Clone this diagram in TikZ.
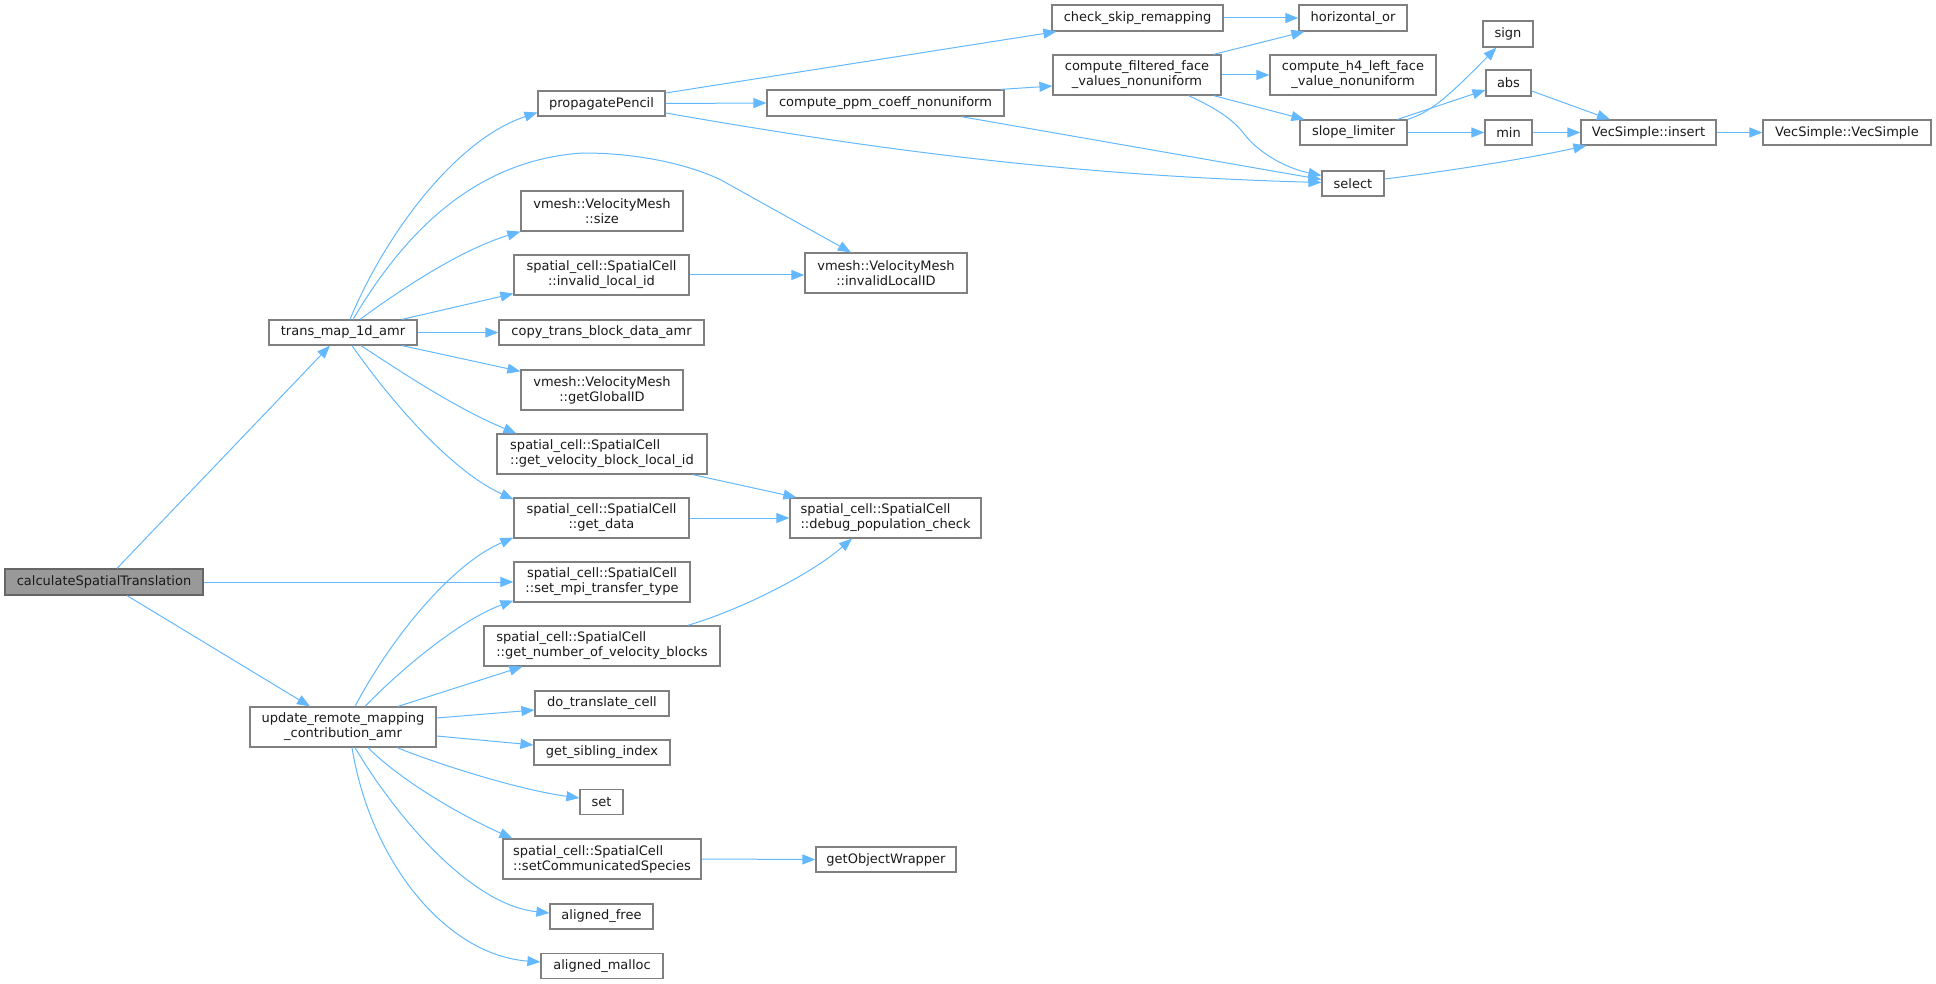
\documentclass[tikz,border=0pt]{standalone}
\usepackage{fontspec}
\setmainfont{DejaVu Sans}
\usetikzlibrary{arrows.meta}
\definecolor{edgec}{HTML}{63B8FF}
\definecolor{boxc}{HTML}{808080}
\definecolor{rootfill}{HTML}{999999}
\definecolor{rootdraw}{HTML}{666666}
\definecolor{txtc}{HTML}{1A1A1A}
\begin{document}
\begin{tikzpicture}[x=1pt,y=-1pt,
  font=\fontsize{13}{15}\selectfont,
  box/.style={draw=boxc, line width=1.2pt, fill=white, inner sep=0pt, align=center, text=txtc},
  lbox/.style={box, align=left},
  root/.style={box, draw=rootdraw, fill=rootfill},
  conn/.style={draw=edgec, line width=1pt, -{Triangle[length=13pt,width=10pt]}}]
\useasboundingbox (0,0) rectangle (1936,984);

% nodes
\node[root, minimum width=198pt, minimum height=26pt] (calc) at (104,582) {calculateSpatialTranslation};
\node[box, minimum width=148pt, minimum height=25pt] (trans) at (343,332.5) {trans\_map\_1d\_amr};
\node[box, minimum width=127pt, minimum height=25pt] (pP) at (601.5,103.5) {propagatePencil};
\node[box, minimum width=162pt, minimum height=40pt] (size) at (602,211) {vmesh::VelocityMesh\\::size};
\node[box, minimum width=175pt, minimum height=40pt] (ilid) at (601.5,275) {spatial\_cell::SpatialCell\\::invalid\_local\_id};
\node[box, minimum width=205pt, minimum height=25pt] (copy) at (601.5,332.5) {copy\_trans\_block\_data\_amr};
\node[box, minimum width=162pt, minimum height=40pt] (ggid) at (602,390) {vmesh::VelocityMesh\\::getGlobalID};
\node[lbox, minimum width=210pt, minimum height=40pt] (gvbli) at (602,454) {spatial\_cell::SpatialCell\\::get\_velocity\_block\_local\_id};
\node[box, minimum width=175pt, minimum height=40pt] (gdata) at (601.5,518) {spatial\_cell::SpatialCell\\::get\_data};
\node[box, minimum width=176pt, minimum height=40pt] (smpi) at (602,582) {spatial\_cell::SpatialCell\\::set\_mpi\_transfer\_type};
\node[lbox, minimum width=236pt, minimum height=40pt] (gnovb) at (602,646) {spatial\_cell::SpatialCell\\::get\_number\_of\_velocity\_blocks};
\node[box, minimum width=186pt, minimum height=40pt] (upd) at (343,727) {update\_remote\_mapping\\\_contribution\_amr};
\node[box, minimum width=134pt, minimum height=25pt] (dotr) at (602,703.5) {do\_translate\_cell};
\node[box, minimum width=136pt, minimum height=25pt] (sib) at (602,752.5) {get\_sibling\_index};
\node[box, minimum width=43pt, minimum height=25pt] (set) at (601.5,802) {set};
\node[lbox, minimum width=198pt, minimum height=40pt] (scs) at (602,859) {spatial\_cell::SpatialCell\\::setCommunicatedSpecies};
\node[box, minimum width=103pt, minimum height=25pt] (afree) at (601.5,916.5) {aligned\_free};
\node[box, minimum width=122pt, minimum height=25pt] (amalloc) at (602,966) {aligned\_malloc};
\node[box, minimum width=171pt, minimum height=26pt] (csr) at (1137.5,18) {check\_skip\_remapping};
\node[box, minimum width=168pt, minimum height=40pt] (cffv) at (1137,75) {compute\_filtered\_face\\\_values\_nonuniform};
\node[box, minimum width=237pt, minimum height=26pt] (ppm) at (885.5,103) {compute\_ppm\_coeff\_nonuniform};
\node[box, minimum width=162pt, minimum height=40pt] (ilID) at (886,273) {vmesh::VelocityMesh\\::invalidLocalID};
\node[lbox, minimum width=191pt, minimum height=40pt] (dpc) at (885.5,518) {spatial\_cell::SpatialCell\\::debug\_population\_check};
\node[box, minimum width=140pt, minimum height=25pt] (gow) at (886,859.5) {getObjectWrapper};
\node[box, minimum width=108pt, minimum height=26pt] (hor) at (1353,18) {horizontal\_or};
\node[box, minimum width=166pt, minimum height=40pt] (h4) at (1353,75) {compute\_h4\_left\_face\\\_value\_nonuniform};
\node[box, minimum width=107pt, minimum height=25pt] (slope) at (1353.5,132.5) {slope\_limiter};
\node[box, minimum width=62pt, minimum height=25pt] (sel) at (1353,183.5) {select};
\node[box, minimum width=50pt, minimum height=26pt] (sign) at (1508,34) {sign};
\node[box, minimum width=45pt, minimum height=26pt] (abs) at (1508.5,83) {abs};
\node[box, minimum width=47pt, minimum height=25pt] (min) at (1508.5,132.5) {min};
\node[box, minimum width=135pt, minimum height=25pt] (ins) at (1648.5,132.5) {VecSimple::insert};
\node[box, minimum width=168pt, minimum height=25pt] (vec) at (1847,132.5) {VecSimple::VecSimple};

% connectors from calculateSpatialTranslation
\draw[conn] ([xshift=13pt]calc.north) -- ([xshift=-13pt]trans.south);
\draw[conn] (calc.east) -- (smpi.west);
\draw[conn] ([xshift=23pt]calc.south) -- ([xshift=-33pt]upd.north);

% from trans_map_1d_amr
\draw[conn] ([xshift=7pt]trans.north) .. controls (385,235) and (455,140) .. ([yshift=-9pt]pP.west);
\draw[conn] ([xshift=10pt]trans.north) .. controls (400,240) and (470,160) .. (583,153) .. controls (640,153) and (690,165) .. (721,180) -- ([xshift=-35pt]ilID.north);
\draw[conn] ([xshift=17pt]trans.north) .. controls (400,290) and (460,250) .. (size.south west);
\draw[conn] ([xshift=59pt]trans.north) -- ([yshift=2pt]ilid.south west);
\draw[conn] (trans.east) -- (copy.west);
\draw[conn] ([xshift=59pt]trans.south) -- ([yshift=-2pt]ggid.north west);
\draw[conn] ([xshift=18pt]trans.south) .. controls (410,378) and (460,410) .. ([xshift=20pt]gvbli.north west);
\draw[conn] ([xshift=9pt]trans.south) .. controls (390,400) and (450,470) .. ([yshift=-2pt]gdata.north west);

% from update_remote_mapping_contribution_amr
\draw[conn] ([xshift=12pt]upd.north) .. controls (390,640) and (450,565) .. ([yshift=1pt]gdata.south west);
\draw[conn] ([xshift=22pt]upd.north) .. controls (400,670) and (460,620) .. ([yshift=2pt]smpi.south west);
\draw[conn] ([xshift=55pt]upd.north) -- ([xshift=39pt]gnovb.south west);
\draw[conn] ([yshift=9pt]upd.east) -- ([yshift=-6.5pt]dotr.west);
\draw[conn] ([yshift=-9pt]upd.east) -- ([yshift=7.5pt]sib.west);
\draw[conn] ([xshift=54pt]upd.south) .. controls (440,765) and (520,790) .. ([yshift=4pt]set.west);
\draw[conn] ([xshift=25pt]upd.south) .. controls (400,780) and (460,815) .. ([xshift=10pt]scs.north west);
\draw[conn] ([xshift=12pt]upd.south) .. controls (395,815) and (470,905) .. ([yshift=3.5pt]afree.west);
\draw[conn] ([xshift=9pt]upd.south) .. controls (370,860) and (445,955) .. ([yshift=4pt]amalloc.west);

% from propagatePencil
\draw[conn] ([yshift=10.5pt]pP.east) -- ([xshift=5pt]csr.south west);
\draw[conn] (pP.east) -- (ppm.west);
\draw[conn] ([yshift=-9.5pt]pP.east) .. controls (850,145) and (1050,175) .. ([yshift=1pt]sel.west);

% from compute_ppm_coeff_nonuniform
\draw[conn] ([xshift=-4pt]ppm.north east) -- ([yshift=-11pt]cffv.west);
\draw[conn] ([xshift=75.5pt]ppm.south) -- ([yshift=4pt]sel.west);

% from compute_filtered_face_values_nonuniform
\draw[conn] ([xshift=-8pt]cffv.north east) -- ([xshift=6pt]hor.south west);
\draw[conn] (cffv.east) -- (h4.west);
\draw[conn] ([xshift=-8pt]cffv.south east) -- ([xshift=5pt]slope.north west);
\draw[conn] ([xshift=-33pt]cffv.south east) .. controls (1215,108) and (1232,118) .. (1245,135) .. controls (1258,152) and (1285,168) .. ([yshift=8pt]sel.west);

\draw[conn] (csr.east) -- (hor.west);

% from slope_limiter
\draw[conn] (slope.north east) .. controls (1430,112) and (1445,100) .. ([xshift=14pt]sign.south west);
\draw[conn] ([xshift=-10pt]slope.north east) -- ([yshift=-7pt]abs.west);
\draw[conn] (slope.east) -- (min.west);

\draw[conn] (min.east) -- (ins.west);
\draw[conn] ([yshift=-8pt]abs.east) -- ([xshift=-38.5pt]ins.north);
\draw[conn] ([yshift=4.5pt]sel.east) .. controls (1450,171) and (1530,158) .. ([xshift=6pt]ins.south west);
\draw[conn] (ins.east) -- (vec.west);

% others
\draw[conn] (ilid.east) -- (ilid.east -| ilID.west);
\draw[conn] ([xshift=-15pt]gvbli.south east) -- ([xshift=7pt]dpc.north west);
\draw[conn] (gdata.east) -- (dpc.west);
\draw[conn] ([xshift=-33pt]gnovb.north east) .. controls (740,610) and (810,575) .. ([xshift=-33.5pt]dpc.south);
\draw[conn] (scs.east) -- (gow.west);
\end{tikzpicture}
\end{document}
